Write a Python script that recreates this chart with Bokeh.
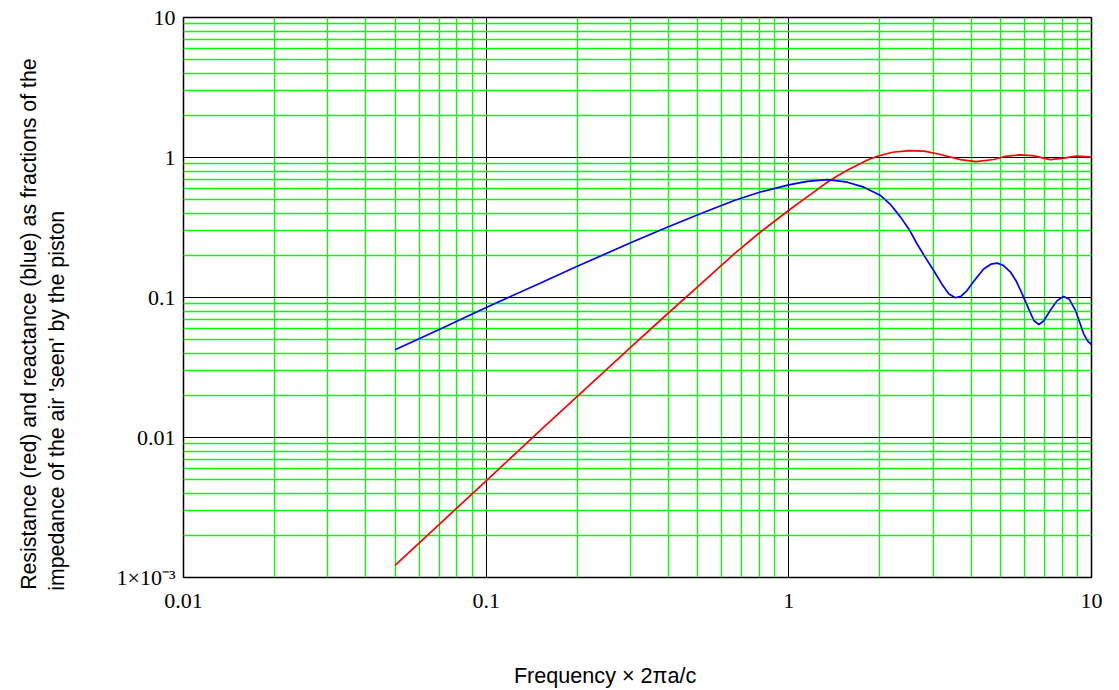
import numpy as np
from bokeh.plotting import figure
from bokeh.models import CustomJSTickFormatter, FixedTicker, Range1d
from bokeh.embed import file_html
from bokeh.resources import INLINE

# ---- data ----
# Reactance (blue)
x_reactance = [0.05, 0.07, 0.1, 0.15, 0.2, 0.3, 0.4, 0.51, 0.66, 0.8, 1.0, 1.15,
               1.34, 1.56, 1.77, 2.01, 2.17, 2.34, 2.5, 2.65, 2.83, 3.01, 3.2,
               3.38, 3.55, 3.7, 3.88, 4.1, 4.4, 4.65, 4.88, 5.1, 5.4, 5.65,
               5.9, 6.2, 6.45, 6.7, 6.95, 7.31, 7.7, 8.09, 8.45, 8.85, 9.15,
               9.42, 9.7, 10.0]
y_reactance = [0.0424, 0.059, 0.0848, 0.126, 0.167, 0.246, 0.32, 0.396, 0.493,
               0.565, 0.638, 0.675, 0.694, 0.666, 0.614, 0.535, 0.46, 0.375,
               0.305, 0.242, 0.192, 0.156, 0.125, 0.106, 0.0995, 0.102, 0.112,
               0.132, 0.16, 0.173, 0.176, 0.17, 0.152, 0.13, 0.106, 0.083,
               0.0685, 0.0641, 0.068, 0.081, 0.095, 0.1017, 0.097, 0.081,
               0.066, 0.055, 0.049, 0.046]

# Resistance (red)
x_resistance = [0.05, 0.07, 0.1, 0.15, 0.2, 0.3, 0.4, 0.51, 0.66, 0.8, 1.0, 1.24,
                1.34, 1.44, 1.56, 1.68, 1.82, 1.96, 2.2, 2.5, 2.8, 3.17, 3.69,
                4.15, 4.75, 5.2, 5.8, 6.4, 7.3, 8.1, 8.9, 9.5, 10.0]
y_resistance = [0.00122, 0.0024, 0.0049, 0.0111, 0.0197, 0.044, 0.0775, 0.124,
                0.205, 0.29, 0.42, 0.59, 0.665, 0.735, 0.81, 0.88, 0.96, 1.02,
                1.09, 1.12, 1.11, 1.05, 0.965, 0.935, 0.968, 1.02, 1.045, 1.03,
                0.965, 0.99, 1.025, 1.015, 1.005]

x_ticks = [0.01, 0.1, 1, 10]
x_tick_labels = ["0.01", "0.1", "1", "10"]
y_ticks = [0.001, 0.01, 0.1, 1, 10]
y_tick_labels = ["1×10⁻³", "0.01", "0.1", "1", "10"]

x_title = "Frequency × 2πa/c"
y_title_1 = "Resistance (red) and reactance (blue) as fractions of the"
y_title_2 = "impedance of the air 'seen' by the piston"

# em-space padding: the reference places its titles off the frame's centre
EM = "\u2003"
EN = "\u2002"
THIN = "\u2009"


def minor_ticks(major):
    out = []
    for t in major[:-1]:
        out += [t * m for m in range(2, 10)]
    return out


p = figure(width=1119, height=690, x_axis_type="log", y_axis_type="log",
           x_range=Range1d(0.01, 10), y_range=Range1d(0.001, 10),
           output_backend="svg", toolbar_location=None,
           min_border_left=183, min_border_right=28,
           min_border_top=17, min_border_bottom=113)

p.xaxis.ticker = FixedTicker(ticks=x_ticks, minor_ticks=minor_ticks(x_ticks))
p.yaxis.ticker = FixedTicker(ticks=y_ticks, minor_ticks=minor_ticks(y_ticks))
p.xaxis.formatter = CustomJSTickFormatter(args=dict(labels=x_tick_labels),
                                          code="return labels[index];")
p.yaxis.formatter = CustomJSTickFormatter(args=dict(labels=y_tick_labels),
                                          code="return labels[index];")

for ax in p.axis:
    ax.major_tick_line_color = None
    ax.minor_tick_line_color = None
    ax.axis_line_color = None
    ax.major_label_text_font = "Liberation Serif"
    ax.major_label_text_font_size = "22px"
    ax.major_label_text_color = "black"
    ax.axis_label_text_font = "Liberation Sans"
    ax.axis_label_text_font_style = "normal"
    ax.axis_label_text_color = "black"
p.yaxis.major_label_standoff = 2
p.xaxis.major_label_standoff = 10

p.xaxis.axis_label = x_title + EM * 3
p.xaxis.axis_label_text_font_size = "21.6px"
p.xaxis.axis_label_text_line_height = 1.0
p.xaxis.axis_label_standoff = 52
p.yaxis.axis_label = (y_title_1 + EM * 2 + EN + "\n"
                      + y_title_2 + EM * 9 + EN + THIN)
p.yaxis.axis_label_text_font_size = "21.3px"
p.yaxis.axis_label_standoff = 44
p.yaxis.axis_label_text_align = "left"

p.grid.grid_line_color = "black"
p.grid.grid_line_alpha = 1
p.grid.grid_line_width = 1
p.grid.minor_grid_line_color = "#00ff00"
p.grid.minor_grid_line_alpha = 1
p.grid.minor_grid_line_width = 1.3

p.outline_line_color = "black"
p.outline_line_width = 1.5
p.outline_line_alpha = 1
p.background_fill_color = "white"
p.border_fill_color = "white"

p.line(x_resistance, y_resistance, line_color="#ff0000", line_width=1.7)
p.line(x_reactance, y_reactance, line_color="#0000ff", line_width=1.7)

with open("out.html", "w", encoding="utf-8") as f:
    f.write(file_html(p, INLINE))
